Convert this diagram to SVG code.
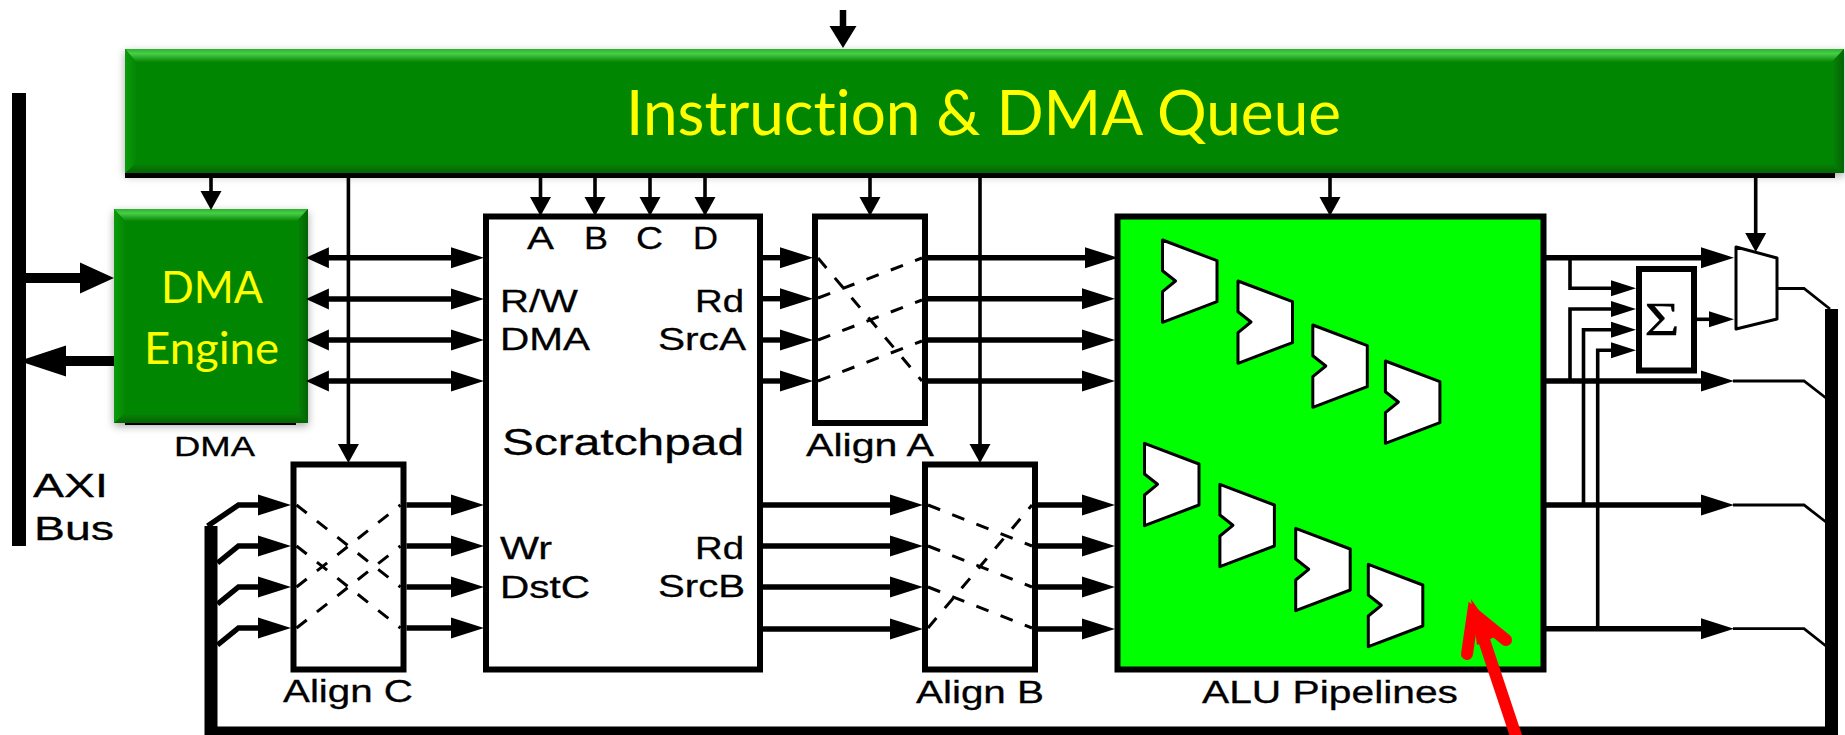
<svg xmlns="http://www.w3.org/2000/svg" width="1845" height="735" viewBox="0 0 1845 735">
<style>
text{font-family:"Liberation Sans",Arial,sans-serif;fill:#000;font-size:31px;stroke:#000;stroke-width:.3}
.y{font-family:Lato,"Noto Sans",sans-serif;fill:#ffff00;stroke:none;font-variant-ligatures:none}
.box{fill:#fff;stroke:#000;stroke-width:6}
.w5{fill:none;stroke:#000;stroke-width:5.4}
.w3{fill:none;stroke:#000;stroke-width:3.6}
.w2{fill:none;stroke:#000;stroke-width:2.8}
.dash{fill:none;stroke:#000;stroke-width:3;stroke-dasharray:13 13}
.alu{fill:#fff;stroke:#000;stroke-width:3;stroke-linejoin:round}
.a31{marker-end:url(#h31)}
.a22{marker-end:url(#h22)}
.a18{marker-end:url(#h18)}
.a24{marker-end:url(#h24)}
.red{fill:none;stroke:#ff0000;stroke-width:12}
</style>
<defs>
<marker id="h31" markerUnits="userSpaceOnUse" markerWidth="34" markerHeight="24" refX="0" refY="10.5" orient="auto" overflow="visible"><path d="M0,0L33,10.5L0,21z"/></marker>
<marker id="h22" markerUnits="userSpaceOnUse" markerWidth="24" markerHeight="24" refX="0" refY="10.5" orient="auto" overflow="visible"><path d="M0,0L23,10.5L0,21z"/></marker>
<marker id="h18" markerUnits="userSpaceOnUse" markerWidth="20" markerHeight="24" refX="0" refY="10.5" orient="auto" overflow="visible"><path d="M0,0L19,10.5L0,21z"/></marker>
<marker id="h24" markerUnits="userSpaceOnUse" markerWidth="26" markerHeight="18" refX="0" refY="8" orient="auto" overflow="visible"><path d="M0,0L25,8L0,16z"/></marker>
<marker id="hAxiIn" markerUnits="userSpaceOnUse" markerWidth="35" markerHeight="32" refX="0" refY="15.5" orient="auto" overflow="visible"><path d="M0,0L34,15.5L0,31z"/></marker>
<marker id="hAxiOut" markerUnits="userSpaceOnUse" markerWidth="48" markerHeight="32" refX="0" refY="15.5" orient="auto" overflow="visible"><path d="M0,0L47,15.5L0,31z"/></marker>
<marker id="hTop" markerUnits="userSpaceOnUse" markerWidth="23" markerHeight="28" refX="0" refY="13.5" orient="auto" overflow="visible"><path d="M0,0L22,13.5L0,27z"/></marker>
<linearGradient id="bt" x1="0" y1="0" x2="0" y2="1"><stop offset="0" stop-color="#2fae2f"/><stop offset=".35" stop-color="#45d045"/><stop offset=".7" stop-color="#26a826"/><stop offset="1" stop-color="#058605"/></linearGradient>
<linearGradient id="bb" x1="0" y1="0" x2="0" y2="1"><stop offset="0" stop-color="#058605"/><stop offset="1" stop-color="#056305"/></linearGradient>
<linearGradient id="bl" x1="0" y1="0" x2="1" y2="0"><stop offset="0" stop-color="#0a9c0a"/><stop offset="1" stop-color="#058605"/></linearGradient>
<linearGradient id="br" x1="0" y1="0" x2="1" y2="0"><stop offset="0" stop-color="#058605"/><stop offset="1" stop-color="#056305"/></linearGradient>
<filter id="sh" x="-5%" y="-10%" width="110%" height="125%"><feDropShadow dx="0" dy="3" stdDeviation="4" flood-color="#000" flood-opacity=".35"/></filter>
<path id="aluShape" class="alu" d="M0,0L54.5,20.7V61.7L0,82.3V51.7L13,41L0,30.7z"/>
</defs>

<g id="dma">
<rect x="125" y="415" width="171" height="10"/>
<g filter="url(#sh)">
<rect x="114" y="209" width="194" height="214" fill="#058605"/>
</g>
<path d="M114,209H308L297,221H125z" fill="url(#bt)"/>
<path d="M114,423H308L297,413H125z" fill="url(#bb)"/>
<path d="M114,209L125,221V413L114,423z" fill="url(#bl)"/>
<path d="M308,209L297,221V413L308,423z" fill="url(#br)"/>
<text class="y" x="161" y="303" textLength="102" lengthAdjust="spacingAndGlyphs" style="font-size:44px">DMA</text>
<text class="y" x="144" y="364" textLength="135" lengthAdjust="spacingAndGlyphs" style="font-size:44px">Engine</text>
<text x="174" y="456" textLength="81" lengthAdjust="spacingAndGlyphs" style="font-size:27px">DMA</text>
</g>

<g id="connectors">
<path class="w5" style="stroke-width:6.5;marker-end:url(#hTop)" d="M843,10V26"/>
<path class="w3 a18" d="M211,178V191"/>
<path class="w3 a18" d="M348.4,178V444"/>
<path class="w3 a18" d="M540.5,178V197"/>
<path class="w3 a18" d="M595,178V197"/>
<path class="w3 a18" d="M650,178V197"/>
<path class="w3 a18" d="M705,178V197"/>
<path class="w3 a18" d="M870,178V197"/>
<path class="w3 a18" d="M980,178V444"/>
<path class="w3 a18" d="M1330,178V197"/>
<path class="w3 a18" d="M1755.7,178V233"/>

<path class="w5" style="stroke-width:10;marker-end:url(#hAxiIn)" d="M26,278H80"/>
<path class="w5" style="stroke-width:10;marker-end:url(#hAxiOut)" d="M114,361H66"/>

<path class="w5 a31" d="M328,257.7H451"/>
<path class="w5 a31" d="M328,299H451"/>
<path class="w5 a31" d="M328,340H451"/>
<path class="w5 a31" d="M328,381H451"/>
<path class="w5 a22" d="M329,257.7H328.9"/>
<path class="w5 a22" d="M329,299H328.9"/>
<path class="w5 a22" d="M329,340H328.9"/>
<path class="w5 a22" d="M329,381H328.9"/>

<path class="w5 a31" d="M763,257.7H780"/>
<path class="w5 a31" d="M763,298.7H780"/>
<path class="w5 a31" d="M763,340H780"/>
<path class="w5 a31" d="M763,381H780"/>
<path class="w5 a31" d="M928,257.7H1085"/>
<path class="w5 a31" d="M928,298.7H1082"/>
<path class="w5 a31" d="M928,340H1082"/>
<path class="w5 a31" d="M928,381H1082"/>

<path class="w5 a31" d="M763,505H890"/>
<path class="w5 a31" d="M763,546H890"/>
<path class="w5 a31" d="M763,587H890"/>
<path class="w5 a31" d="M763,629H890"/>
<path class="w5 a31" d="M1038,505H1082"/>
<path class="w5 a31" d="M1038,546H1082"/>
<path class="w5 a31" d="M1038,587H1082"/>
<path class="w5 a31" d="M1038,629H1082"/>

<path class="w5 a31" d="M207.6,526L238.5,505H258"/>
<path class="w5 a31" d="M217.5,563L238.5,546H258"/>
<path class="w5 a31" d="M217.5,604L238.5,587H258"/>
<path class="w5 a31" d="M217.5,645L238.5,628H258"/>
<path class="w5 a31" d="M406.5,505H451"/>
<path class="w5 a31" d="M406.5,546H451"/>
<path class="w5 a31" d="M406.5,587H451"/>
<path class="w5 a31" d="M406.5,628H451"/>

<path class="w3 a24" d="M1570,258V288.3H1611"/>
<path class="w3 a24" d="M1570,381V309H1611"/>
<path class="w3 a24" d="M1583.5,505V329.7H1611"/>
<path class="w3 a24" d="M1597.7,629V350.3H1611"/>
<path class="w3 a24" d="M1697,319.3H1709"/>

<path class="w5 a31" d="M1546,257.7H1701"/>
<path class="w5 a31" d="M1546,381H1701"/>
<path class="w5 a31" d="M1546,505H1701"/>
<path class="w5 a31" d="M1546,628.7H1701"/>
<path class="w2" d="M1733,381H1804L1826,398"/>
<path class="w2" d="M1733,505H1804L1826,522"/>
<path class="w2" d="M1733,628.7H1804L1826,646"/>
<path class="w2" d="M1777,288.5H1804L1830,309"/>

<path fill="none" stroke="#000" stroke-width="13" d="M211,526V733H1831.5V309"/>
</g>

<g id="axi-bus">
<rect x="12" y="93" width="14" height="453"/>
<text x="33" y="497" textLength="75" lengthAdjust="spacingAndGlyphs" style="font-size:34px">AXI</text>
<text x="34" y="540" textLength="80" lengthAdjust="spacingAndGlyphs" style="font-size:34px">Bus</text>
</g>

<g id="queue">
<rect x="125" y="170" width="1710" height="8"/>
<g filter="url(#sh)">
<rect x="125" y="49" width="1719" height="124" fill="#058605"/>
</g>
<path d="M125,49H1844L1832,62H136z" fill="url(#bt)"/>
<path d="M125,173H1844L1832,163H136z" fill="url(#bb)"/>
<path d="M125,49L136,62V163L125,173z" fill="url(#bl)"/>
<path d="M1844,49L1832,62V163L1844,173z" fill="url(#br)"/>
<text class="y" x="626" y="135" textLength="715" lengthAdjust="spacingAndGlyphs" style="font-size:61px">Instruction &amp; DMA Queue</text>
</g>

<g id="scratchpad">
<rect class="box" x="486" y="216.5" width="274" height="453"/>
<text x="527" y="249" textLength="27" lengthAdjust="spacingAndGlyphs">A</text>
<text x="584" y="249" textLength="24" lengthAdjust="spacingAndGlyphs">B</text>
<text x="636" y="249" textLength="27" lengthAdjust="spacingAndGlyphs">C</text>
<text x="693" y="249" textLength="25" lengthAdjust="spacingAndGlyphs">D</text>
<text x="500" y="312" textLength="78" lengthAdjust="spacingAndGlyphs">R/W</text>
<text x="500" y="350" textLength="90" lengthAdjust="spacingAndGlyphs">DMA</text>
<text x="695" y="312" textLength="49" lengthAdjust="spacingAndGlyphs">Rd</text>
<text x="658" y="350" textLength="88" lengthAdjust="spacingAndGlyphs">SrcA</text>
<text x="502" y="455" textLength="242" lengthAdjust="spacingAndGlyphs" style="font-size:37px">Scratchpad</text>
<text x="500" y="559" textLength="52" lengthAdjust="spacingAndGlyphs">Wr</text>
<text x="500" y="598" textLength="90" lengthAdjust="spacingAndGlyphs">DstC</text>
<text x="695" y="559" textLength="49" lengthAdjust="spacingAndGlyphs">Rd</text>
<text x="658" y="597" textLength="87" lengthAdjust="spacingAndGlyphs">SrcB</text>
</g>

<g id="align-a">
<rect class="box" x="815" y="216.5" width="110" height="206.5"/>
<path class="dash" d="M818,258L922,381"/>
<path class="dash" d="M818,298L922,258"/>
<path class="dash" d="M818,340L922,300"/>
<path class="dash" d="M818,381L922,341"/>
<text x="806" y="456" textLength="128" lengthAdjust="spacingAndGlyphs">Align A</text>
</g>

<g id="align-b">
<rect class="box" x="925" y="464.5" width="110" height="205"/>
<path class="dash" d="M928,505L1032,546"/>
<path class="dash" d="M928,546L1032,587"/>
<path class="dash" d="M928,587L1032,628"/>
<path class="dash" d="M928,628L1032,505"/>
<text x="916" y="703" textLength="128" lengthAdjust="spacingAndGlyphs">Align B</text>
</g>

<g id="align-c">
<rect class="box" x="293.5" y="464.5" width="110" height="205"/>
<path class="dash" d="M296.5,505L400.5,587"/>
<path class="dash" d="M296.5,546L400.5,628"/>
<path class="dash" d="M296.5,587L400.5,505"/>
<path class="dash" d="M296.5,628L400.5,546"/>
<text x="283" y="702" textLength="130" lengthAdjust="spacingAndGlyphs">Align C</text>
</g>

<g id="alu-pipelines">
<rect class="box" x="1117.5" y="216.5" width="426" height="453" style="fill:#00ff00"/>
<use href="#aluShape" x="1162.5" y="240"/>
<use href="#aluShape" x="1238" y="281"/>
<use href="#aluShape" x="1312.8" y="325"/>
<use href="#aluShape" x="1385.4" y="361"/>
<use href="#aluShape" x="1144.5" y="443.3"/>
<use href="#aluShape" x="1219.9" y="484.3"/>
<use href="#aluShape" x="1295.7" y="528.3"/>
<use href="#aluShape" x="1368.3" y="564.3"/>
<text x="1202" y="703" textLength="256" lengthAdjust="spacingAndGlyphs">ALU Pipelines</text>
</g>

<g id="sum">
<rect class="box" x="1639" y="269" width="55" height="101.5"/>
<text x="1644.5" y="335" textLength="35" lengthAdjust="spacingAndGlyphs" style="font-family:'Liberation Serif',serif;font-size:46px">Σ</text>
</g>

<g id="mux">
<path d="M1736,247L1777,258V319L1736,329z" fill="#fff" stroke="#000" stroke-width="3" stroke-linejoin="round"/>
</g>

<g id="red-arrow">
<path class="red" d="M1479,625L1519,745"/>
<path class="red" d="M1467,654L1473,613L1506,640" stroke-linecap="round" stroke-linejoin="miter" stroke-miterlimit="10"/>
<path d="M1471,599L1477,645L1497,636z" fill="#ff0000"/>
</g>
</svg>
